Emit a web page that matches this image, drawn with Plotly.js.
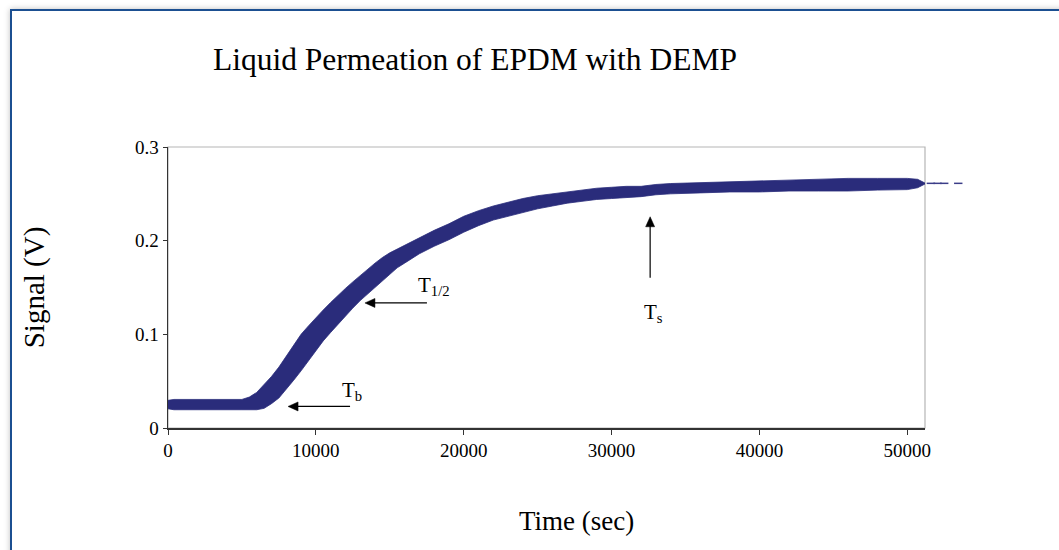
<!DOCTYPE html>
<html>
<head>
<meta charset="utf-8">
<script src="https://cdn.plot.ly/plotly-3.0.1.min.js"></script>
<style>
  html, body { margin: 0; padding: 0; background: #ffffff; overflow: hidden; }
  #frame { position: absolute; left: 10px; top: 9px; width: 1100px; height: 600px;
           border: 2px solid #1b4f91; box-shadow: 0 0 6px rgba(0,0,0,0.25); background: #fff; }
  #chart { position: absolute; left: 0; top: 0; width: 1059px; height: 550px; }
</style>
</head>
<body>
<div id="frame"></div>
<div id="chart"></div>
<script>
// Time (sec) sampled along the recorded band
const timeSec = [0, 400, 5000, 5500, 6000, 6500, 7000, 7500, 8000, 8500, 9000, 9500, 10000,
  10500, 11000, 11500, 12000, 12500, 13000, 13500, 14000, 14500, 15000, 15500, 16000,
  17000, 18000, 19000, 20000, 21000, 22000, 23000, 24000, 25000, 26000, 27000, 28000,
  29000, 30000, 31000, 32000, 33000, 34000, 36000, 38000, 40000, 42000, 44000, 46000,
  48000, 50000, 50700, 51200];
// Upper edge of the noisy signal band (V)
const signalUpper = [0.0295, 0.0305, 0.0305, 0.033, 0.038, 0.046, 0.055, 0.065, 0.077, 0.089,
  0.100, 0.109, 0.118, 0.126, 0.134, 0.142, 0.149, 0.156, 0.163, 0.169, 0.176, 0.182, 0.187,
  0.191, 0.195, 0.203, 0.211, 0.218, 0.226, 0.232, 0.237, 0.241, 0.245, 0.248, 0.250, 0.252,
  0.254, 0.256, 0.257, 0.258, 0.258, 0.260, 0.261, 0.262, 0.263, 0.264, 0.265, 0.266, 0.2665,
  0.2665, 0.2665, 0.2655, 0.2615];
// Lower edge of the noisy signal band (V)
const signalLower = [0.0205, 0.0195, 0.0195, 0.0195, 0.0195, 0.021, 0.026, 0.032, 0.041, 0.051,
  0.061, 0.072, 0.083, 0.093, 0.102, 0.111, 0.120, 0.128, 0.136, 0.143, 0.151, 0.158, 0.165,
  0.171, 0.176, 0.186, 0.194, 0.201, 0.209, 0.216, 0.222, 0.226, 0.230, 0.234, 0.237, 0.240,
  0.242, 0.244, 0.245, 0.246, 0.247, 0.249, 0.250, 0.251, 0.252, 0.252, 0.253, 0.253, 0.253,
  0.254, 0.2545, 0.2565, 0.2605];
// Stray samples past the end of the plotted range
const tailTime = [51600, 52050, 52500, 53450];
const tailSignal = [0.2612, 0.2612, 0.2612, 0.2612];

const timeTicks = [0, 10000, 20000, 30000, 40000, 50000];
const timeTickText = ['0', '10000', '20000', '30000', '40000', '50000'];
const signalTicks = [0, 0.1, 0.2, 0.3];
const signalTickText = ['0', '0.1', '0.2', '0.3'];

// Marker labels and arrow tips (time, signal)
const markerNames = ['T<sub>b</sub>', 'T<sub>1/2</sub>', 'T<sub>s</sub>'];
const arrowTipTime = [8120, 13320, 32610];
const arrowTipSignal = [0.023, 0.1335, 0.2255];
const labelTime = [11650, 16780, 32080];
const labelSignal = [0.039, 0.152, 0.123];

const BAND = '#2a2c7b';
const FONT = 'Liberation Serif, Times New Roman, serif';
const TIME_MAX = 51200;
const PLOT_FRAC = 0.9498;   // share of the drawing width used by the framed plot area

const traces = [
  { x: timeSec, y: signalLower, type: 'scatter', mode: 'lines',
    line: { color: BAND, width: 0.8 }, hoverinfo: 'skip', showlegend: false },
  { x: timeSec, y: signalUpper, type: 'scatter', mode: 'lines', fill: 'tonexty',
    fillcolor: BAND, line: { color: BAND, width: 0.8 }, name: 'Signal', showlegend: false },
  { x: tailTime, y: tailSignal, xaxis: 'x2', yaxis: 'y', type: 'scatter', mode: 'markers',
    marker: { color: '#3b3d88', size: 6, symbol: 'line-ew', line: { color: '#3b3d88', width: 1.5 } },
    hoverinfo: 'skip', showlegend: false }
];

// Arrows built as pixel-sized shapes anchored at the arrow tips
const shapes = [{ type: 'rect', xref: 'paper', yref: 'paper', x0: 0, x1: PLOT_FRAC, y0: 0, y1: 1,
                  line: { color: '#b5b5b5', width: 1.2 }, layer: 'below' }];
for (let i = 0; i < markerNames.length; i++) {
  const vertical = i === 2;
  const base = { xref: 'x', yref: 'y', xsizemode: 'pixel', ysizemode: 'pixel',
                 xanchor: arrowTipTime[i], yanchor: arrowTipSignal[i] };
  shapes.push(Object.assign({}, base, {
    type: 'line', x0: vertical ? 0 : 6, x1: vertical ? 0 : 62, y0: vertical ? -6 : 0, y1: vertical ? -61 : 0,
    line: { color: '#000', width: 1.2 } }));
  shapes.push(Object.assign({}, base, {
    type: 'path', path: vertical ? 'M0,0 L-4.5,-10 L4.5,-10 Z' : 'M0,0 L10,4.5 L10,-4.5 Z',
    fillcolor: '#000', line: { color: '#000', width: 0.5 } }));
}

const annotations = [];
for (let i = 0; i < markerNames.length; i++) {
  annotations.push({
    x: labelTime[i], y: labelSignal[i], xref: 'x', yref: 'y', text: markerNames[i],
    showarrow: false, xanchor: 'left', yanchor: 'middle',
    font: { family: FONT, size: 21, color: '#000' }
  });
}
annotations.push({
  text: 'Time (sec)', xref: 'paper', yref: 'paper', x: 0.513, y: -0.33,
  xanchor: 'center', yanchor: 'middle', showarrow: false,
  font: { family: FONT, size: 27, color: '#000' }
});

const layout = {
  width: 1059, height: 550,
  margin: { l: 168, r: 94, t: 147, b: 122 },
  paper_bgcolor: 'rgba(0,0,0,0)', plot_bgcolor: 'rgba(0,0,0,0)',
  showlegend: false,
  title: { text: 'Liquid Permeation of EPDM with DEMP', xref: 'container', yref: 'container',
           x: 0.4485, y: 0.892, xanchor: 'center', yanchor: 'middle',
           font: { family: FONT, size: 31.5, color: '#000' } },
  xaxis: { domain: [0, PLOT_FRAC], range: [0, TIME_MAX], tickvals: timeTicks, ticktext: timeTickText,
           ticks: 'outside', ticklen: 5, tickcolor: '#333', tickwidth: 1,
           showline: true, linecolor: '#333', linewidth: 1.5, showgrid: false, zeroline: false,
           tickfont: { family: FONT, size: 19, color: '#000' }, fixedrange: true },
  xaxis2: { domain: [0, 1], range: [0, TIME_MAX / PLOT_FRAC], anchor: 'y',
            visible: false, showgrid: false, zeroline: false, fixedrange: true },
  yaxis: { range: [0, 0.3], tickvals: signalTicks, ticktext: signalTickText,
           ticks: 'outside', ticklen: 4, tickcolor: '#333', tickwidth: 1,
           showline: true, linecolor: '#333', linewidth: 1.5, showgrid: false, zeroline: false,
           tickfont: { family: FONT, size: 19, color: '#000' }, fixedrange: true,
           title: { text: 'Signal (V)', standoff: 82, font: { family: FONT, size: 29, color: '#000' } } },
  shapes: shapes,
  annotations: annotations
};

Plotly.newPlot('chart', traces, layout, { displayModeBar: false, staticPlot: true });
</script>
</body>
</html>
